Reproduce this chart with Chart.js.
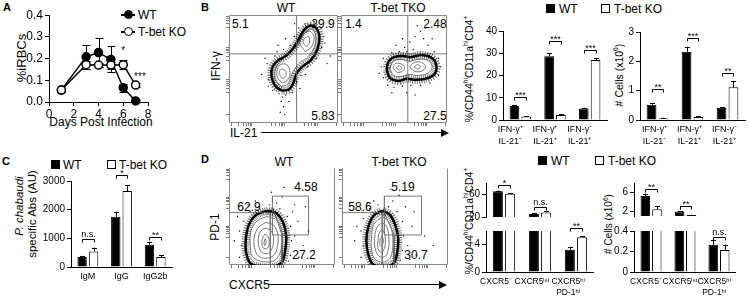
<!DOCTYPE html>
<html>
<head>
<meta charset="utf-8">
<script src="https://cdn.jsdelivr.net/npm/chart.js@4.4.1/dist/chart.umd.min.js"></script>
<style>
body { margin: 0; width: 749px; height: 302px; background: #fff; position: relative; overflow: hidden;
       font-family: "Liberation Sans", Arial, sans-serif; color: #000; }
canvas { position: absolute; }
.t { position: absolute; white-space: nowrap; line-height: 1; font-size: 12px; }
.c { transform: translate(-50%, -50%); }
.lt { transform: translateY(-50%); }
.r { transform: translate(-50%, -50%) rotate(-90deg); }
.b { font-weight: bold; font-size: 11px; }
.sq { position: absolute; width: 9px; height: 9px; box-sizing: border-box; border: 1px solid #000; background: #fff; }
.sq.f { background: #000; }
.ln { position: absolute; height: 1px; background: #000; }
.dot { position: absolute; width: 9px; height: 9px; border-radius: 50%; box-sizing: border-box; border: 1.5px solid #000; background: #fff; }
.dot.f { background: #000; }
.ah { position: absolute; width: 0; height: 0; border-top: 4px solid transparent; border-bottom: 4px solid transparent; border-left: 8px solid #000; }
sup { font-size: 65%; line-height: 0; }
</style>
</head>
<body>

<!-- panel letters -->
<div class="t b" style="left:3px;top:2px">A</div>
<div class="t b" style="left:201px;top:2px">B</div>
<div class="t b" style="left:2px;top:156px">C</div>
<div class="t b" style="left:201px;top:154px">D</div>

<!-- A -->
<div class="ln" style="left:121px;top:14px;width:14px;height:1.5px"></div>
<div class="dot f" style="left:124px;top:10px"></div>
<div class="t lt" style="left:138px;top:15px">WT</div>
<div class="ln" style="left:121px;top:31px;width:14px;height:1.5px"></div>
<div class="dot" style="left:124px;top:27px"></div>
<div class="t lt" style="left:138px;top:32px">T-bet KO</div>
<div class="t r" style="left:21px;top:58px;font-size:13px">%iRBCs</div>
<div class="t c" style="left:101px;top:122px;font-size:12px">Days Post Infection</div>

<!-- B flow -->
<div class="t c" style="left:286px;top:8px">WT</div>
<div class="t c" style="left:398px;top:8px">T-bet TKO</div>
<div class="t r" style="left:216px;top:66px">IFN-γ</div>
<div class="t lt" style="left:232px;top:24px">5.1</div>
<div class="t c" style="left:323px;top:24px">29.9</div>
<div class="t c" style="left:323px;top:116px">5.83</div>
<div class="t lt" style="left:345px;top:24px">1.4</div>
<div class="t c" style="left:435px;top:24px">2.48</div>
<div class="t c" style="left:435px;top:116px">27.5</div>
<div class="t lt" style="left:230px;top:133px">IL-21</div>
<div class="ln" style="left:261px;top:132px;width:181px"></div>
<div class="ah" style="left:441px;top:128.5px"></div>

<!-- B bars -->
<div class="sq f" style="left:546px;top:4px"></div>
<div class="t lt" style="left:559px;top:9px">WT</div>
<div class="sq" style="left:601px;top:4px"></div>
<div class="t lt" style="left:614px;top:9px">T-bet KO</div>
<div class="t r" style="left:469px;top:69px;font-size:10.5px">%/CD44<sup>hi</sup>CD11a<sup>hi</sup>CD4<sup>+</sup></div>
<div class="t r" style="left:619px;top:75px;font-size:10.5px"># Cells (x10<sup>6</sup>)</div>

<!-- C -->
<div class="sq f" style="left:51px;top:160px"></div>
<div class="t lt" style="left:63px;top:165px">WT</div>
<div class="sq" style="left:107px;top:160px"></div>
<div class="t lt" style="left:119px;top:165px">T-bet KO</div>
<div class="t r" style="left:20px;top:206px;font-size:11.5px"><i>P. chabaudi</i></div>
<div class="t r" style="left:33px;top:214px;font-size:11.5px">specific Abs (AU)</div>

<!-- D flow -->
<div class="t c" style="left:284px;top:162px">WT</div>
<div class="t c" style="left:399px;top:162px">T-bet TKO</div>
<div class="t r" style="left:215px;top:227px">PD-1</div>
<div class="t c" style="left:249px;top:207px">62.9</div>
<div class="t c" style="left:306px;top:187px">4.58</div>
<div class="t c" style="left:304px;top:255px">27.2</div>
<div class="t c" style="left:360px;top:207px">58.6</div>
<div class="t c" style="left:403px;top:187px">5.19</div>
<div class="t c" style="left:416px;top:255px">30.7</div>
<div class="t lt" style="left:229px;top:285px">CXCR5</div>
<div class="ln" style="left:268px;top:284px;width:172px"></div>
<div class="ah" style="left:439px;top:280.5px"></div>

<!-- D bars -->
<div class="sq f" style="left:538px;top:156px"></div>
<div class="t lt" style="left:551px;top:161px">WT</div>
<div class="sq" style="left:595px;top:156px"></div>
<div class="t lt" style="left:608px;top:161px">T-bet KO</div>
<div class="t r" style="left:469px;top:221px;font-size:10.5px">%/CD44<sup>hi</sup>CD11a<sup>hi</sup>CD4<sup>+</sup></div>
<div class="t r" style="left:609px;top:224px;font-size:10px"># Cells (x10<sup>6</sup>)</div>

<canvas id="chartA"></canvas>
<canvas id="flowBwt"></canvas>
<canvas id="flowBko"></canvas>
<canvas id="barB1"></canvas>
<canvas id="barB2"></canvas>
<canvas id="barC"></canvas>
<canvas id="flowDwt"></canvas>
<canvas id="flowDko"></canvas>
<canvas id="barD1top"></canvas>
<canvas id="barD1bot"></canvas>
<canvas id="barD2top"></canvas>
<canvas id="barD2bot"></canvas>

<script>
// ---------- data ----------

// A: parasitemia
const aDays = [1, 3, 4, 5, 6, 7];
const aWT = [0.055, 0.208, 0.228, 0.196, 0.066, 0.005];
const aWTErr = [0.01, 0.055, 0.065, 0.06, 0.018, 0.003];
const aKO = [0.055, 0.172, 0.17, 0.17, 0.172, 0.078];
const aKOErr = [0.01, 0.018, 0.01, 0.016, 0.02, 0.01];
const aStars = [{ x: 6, y: 0.232, t: '*' }, { x: 7.35, y: 0.113, t: '***' }];
const aTicksX = [0, 2, 4, 6, 8];
const aTicksY = [0, 0.1, 0.2, 0.3, 0.4];

// flow cytometry (arbitrary 0-100 display units)
const flowTicksX = [2, 9, 13, 16, 18, 19.5, 21, 39, 43, 46, 48, 49.5, 51, 69, 73, 76, 78, 79.5, 81, 99];
const flowTicksY = [8, 28, 32, 35, 37, 38.5, 40, 58, 62, 65, 67, 68.5, 70, 88, 92, 95, 97, 98.5];

const bWtQuad = [[[62, 0], [62, 100]], [[0, 64], [100, 64]]];
const bKoQuad = [[[63, 0], [63, 100]], [[0, 64], [100, 64]]];

const bWtRings = [
  [[48,30],[55,31],[59,37],[62,46],[67,52],[75,58],[81,68],[83,79],[80,88],[74,90],[68,85],[63,76],[58,68],[52,62],[45,58],[40,52],[39,44],[42,35],[48,30]],
  [[48,34],[54,36],[58,46],[64,55],[73,62],[79,72],[79,83],[75,87],[69,83],[63,72],[55,64],[46,56],[42,47],[43,39],[48,34]],
  [[49,37],[54,40],[56,47],[53,54],[47,54],[44,48],[45,41],[49,37]],
  [[49,41],[52,43],[52,48],[48,50],[46,46],[49,41]],
  [[70,66],[76,71],[78,80],[74,85],[68,82],[65,74],[70,66]],
  [[71,71],[74,75],[73,80],[69,78],[68,74],[71,71]]
];
const bWtDots = [[36,40],[38,48],[35,55],[42,62],[44,66],[50,68],[56,72],[60,80],[64,88],[70,92],[78,94],[85,88],[87,80],[85,70],
  [80,60],[72,52],[66,44],[62,38],[58,28],[52,26],[46,27],[40,30],[36,34],[48,20],[50,15],[47,10],[51,8],[49,24],[90,55],
  [93,62],[30,45],[33,60],[55,20],[65,32],[70,45],[88,74],[60,92],[45,72],[52,78]];

const bKoRings = [
  [[43,50],[46,42],[54,39],[62,41],[70,40],[80,41],[88,45],[90,53],[86,60],[76,63],[66,61],[58,62],[50,61],[45,57],[43,50]],
  [[46,50],[50,44],[57,43],[64,45],[72,44],[82,46],[86,52],[82,58],[72,59],[64,57],[56,59],[49,57],[46,50]],
  [[49,51],[53,47],[58,48],[60,52],[56,55],[51,55],[49,51]],
  [[52,51],[55,49],[57,51],[55,53],[52,51]],
  [[65,52],[69,48],[76,48],[80,52],[76,56],[69,56],[65,52]],
  [[69,52],[72,50],[75,52],[72,54],[69,52]]
];
const bKoDots = [[60,70],[65,75],[70,80],[75,85],[72,90],[78,78],[82,72],[68,68],[62,66],[55,66],[48,65],[40,60],[38,52],[40,42],
  [44,35],[50,33],[58,34],[66,35],[75,35],[84,37],[92,44],[94,52],[92,60],[88,66],[86,78],[80,88],[58,78],[52,72],[36,46],
  [62,28],[70,26],[48,28]];

const dWtGates = [
  [[0, 54], [39, 54], [39, 0]],
  [[41, 31], [75, 31], [75, 71], [41, 71], [41, 31]],
  [[41, 60], [50, 31], [50, 0]]
];
const dKoGates = [
  [[0, 54], [38, 54], [38, 0]],
  [[40, 31], [75, 31], [75, 71], [40, 71], [40, 31]],
  [[40, 54], [49, 31], [49, 0]]
];
const dWtRings = [
  [[37,56],[45,53],[51,44],[54,30],[53,15],[50,3],[42,-2],[30,-2],[20,2],[16,14],[16,28],[19,42],[26,52],[37,56]],
  [[36,50],[44,47],[49,38],[50,26],[48,12],[42,4],[30,4],[22,9],[20,22],[21,36],[27,46],[36,50]],
  [[35,44],[42,41],[46,32],[46,21],[43,11],[36,7],[28,9],[24,18],[24,30],[28,39],[35,44]],
  [[34,38],[40,35],[42,27],[41,18],[37,12],[31,13],[28,20],[28,30],[30,35],[34,38]],
  [[34,32],[37,29],[38,23],[36,17],[32,18],[31,24],[32,29],[34,32]],
  [[34,27],[35,24],[34,20],[33,22],[34,27]]
];
const dWtDots = [[12,20],[10,35],[14,45],[20,55],[28,60],[38,62],[48,58],[55,50],[58,40],[59,25],[58,10],[56,4],[10,8],[8,50],
  [25,66],[45,64],[62,30],[60,55],[65,45],[70,20],[5,25],[18,62],[50,70],[66,8],[62,62],[75,35],[52,80],[40,75],[72,60],[80,15]];

const dKoRings = [
  [[38,56],[45,52],[50,42],[53,28],[52,12],[49,2],[40,-2],[30,0],[25,10],[23,25],[25,40],[30,51],[38,56]],
  [[38,50],[43,46],[47,36],[48,22],[46,8],[40,3],[32,5],[28,15],[28,30],[30,42],[38,50]],
  [[38,44],[42,40],[44,30],[44,18],[41,9],[35,9],[31,18],[31,30],[33,39],[38,44]],
  [[38,37],[40,33],[41,25],[40,17],[37,13],[34,17],[34,26],[35,33],[38,37]],
  [[38,30],[39,26],[38,20],[36,20],[36,26],[38,30]]
];
const dKoDots = [[20,20],[18,35],[20,48],[26,58],[34,62],[44,60],[52,55],[57,45],[58,30],[57,15],[55,5],[18,8],[14,40],
  [30,66],[48,66],[62,20],[60,60],[66,40],[70,10],[12,25],[24,64],[54,72],[64,6],[68,55],[78,30],[46,78],[86,20]];

// B bars
const cytoLabels = [['IFN-γ⁺', 'IL-21⁻'], ['IFN-γ⁺', 'IL-21⁺'], ['IFN-γ⁻', 'IL-21⁺']];
const b1WT = [6.3, 28.6, 5.2];
const b1WTErr = [0.3, 1.3, 0.3];
const b1KO = [1.6, 2.3, 27];
const b1KOErr = [0.2, 0.2, 0.7];
const b1Sig = [10.5, 35.5, 31.5];
const b1Stars = ['***', '***', '***'];
const b1Ticks = [0, 10, 20, 30, 40];

const b2WT = [0.52, 2.33, 0.42];
const b2WTErr = [0.05, 0.17, 0.02];
const b2KO = [0.06, 0.1, 1.12];
const b2KOErr = [0.02, 0.02, 0.21];
const b2Sig = [1.05, 2.8, 1.6];
const b2Stars = ['**', '***', '**'];
const b2Ticks = [0, 1, 2, 3];

// C
const abLabels = ['IgM', 'IgG', 'IgG2b'];
const cWT = [350, 1750, 775];
const cWTErr = [40, 170, 80];
const cKO = [540, 2650, 345];
const cKOErr = [140, 200, 60];
const cSig = [970, 3200, 1040];
const cStars = ['n.s.', '*', '**'];
const cTicks = [0, 1000, 2000, 3000];

// D bars (broken axes)
const tfhLabels = ['CXCR5⁻', 'CXCR5ⁱⁿᵗ', ['CXCR5ʰⁱ', 'PD-1ʰⁱ']];
const d1WT = [65.5, 25.5, 3.25];
const d1WTErr = [1.2, 1, 0.45];
const d1KO = [61, 28, 5.1];
const d1KOErr = [1.5, 1.8, 0.15];
const d1Sig = [77, 38, 6.5];
const d1Stars = ['*', 'n.s.', '**'];
const d1TopTicks = [20, 40, 60, 80];
const d1BotTicks = [0, 2, 4, 6];

const d2WT = [5.25, 1.97, 0.265];
const d2WTErr = [0.5, 0.08, 0.045];
const d2KO = [2.45, 1.2, 0.215];
const d2KOErr = [0.65, 0.08, 0.05];
const d2Sig = [6.8, 3.2, 0.345];
const d2Stars = ['**', '**', 'n.s.'];
const d2TopTicks = [2, 4, 6, 8];
const d2BotTicks = [0, 0.1, 0.2, 0.3, 0.4];

// ---------- setup ----------

const FONT = '"Liberation Sans", Arial, sans-serif';
Chart.defaults.font.family = FONT;
Chart.defaults.font.size = 10;
Chart.defaults.color = '#000';
Chart.defaults.animation = false;
Chart.defaults.responsive = false;
Chart.defaults.devicePixelRatio = 1;
Chart.defaults.plugins.legend.display = false;
Chart.defaults.plugins.tooltip.enabled = false;

// error bars, drawn from the value arrays through the y scale
const errPlugin = {
  id: 'errs',
  draw(chart, o) {
    const { ctx, scales: { y } } = chart;
    ctx.save();
    ctx.strokeStyle = '#000';
    ctx.lineWidth = 1;
    o.sets.forEach(([vals, errs], d) => {
      const meta = chart.getDatasetMeta(d);
      vals.forEach((v, i) => {
        const el = meta.data[i];
        if (!el || v < y.min || v > y.max) return;
        const hi = v + errs[i];
        const lo = o.both ? v - errs[i] : v;
        const x = Math.round(el.x) + 0.5;
        ctx.beginPath();
        ctx.moveTo(x, y.getPixelForValue(lo));
        ctx.lineTo(x, y.getPixelForValue(Math.min(hi, y.max)));
        if (hi <= y.max) {
          const py = Math.round(y.getPixelForValue(hi)) + 0.5;
          ctx.moveTo(x - o.cap, py);
          ctx.lineTo(x + o.cap, py);
          if (o.both) {
            const pl = Math.round(y.getPixelForValue(lo)) + 0.5;
            ctx.moveTo(x - o.cap, pl);
            ctx.lineTo(x + o.cap, pl);
          }
        }
        ctx.stroke();
      });
    });
    ctx.restore();
  },
  beforeDatasetsDraw(chart, _, o) { if (o.sets && o.before) this.draw(chart, o); },
  afterDatasetsDraw(chart, _, o) { if (o.sets && !o.before) this.draw(chart, o); }
};

// significance brackets between the two bars of a group
const sigPlugin = {
  id: 'sig',
  afterDraw(chart, _, o) {
    if (!o.items) return;
    const { ctx, scales: { y } } = chart;
    const m0 = chart.getDatasetMeta(0), m1 = chart.getDatasetMeta(1);
    ctx.save();
    ctx.strokeStyle = '#000';
    ctx.fillStyle = '#000';
    ctx.lineWidth = 1;
    ctx.font = '9px ' + FONT;
    ctx.textAlign = 'center';
    ctx.textBaseline = 'bottom';
    o.items.forEach(({ i, v, t }) => {
      const x0 = Math.round(m0.data[i].x) + 0.5;
      const x1 = Math.round(m1.data[i].x) + 0.5;
      const py = Math.round(y.getPixelForValue(v)) + 0.5;
      ctx.beginPath();
      ctx.moveTo(x0, py + 3); ctx.lineTo(x0, py); ctx.lineTo(x1, py); ctx.lineTo(x1, py + 3);
      ctx.stroke();
      ctx.fillText(t, (x0 + x1) / 2, t.startsWith('*') ? py + 3 : py);
    });
    ctx.restore();
  }
};

// free text at data coordinates
const notePlugin = {
  id: 'notes',
  afterDraw(chart, _, o) {
    if (!o.items) return;
    const { ctx, scales: { x, y } } = chart;
    ctx.save();
    ctx.fillStyle = '#000';
    ctx.font = '10px ' + FONT;
    ctx.textAlign = 'center';
    ctx.textBaseline = 'middle';
    o.items.forEach(n => ctx.fillText(n.t, x.getPixelForValue(n.x), y.getPixelForValue(n.y)));
    ctx.restore();
  }
};

// frame around flow plots
const framePlugin = {
  id: 'frame',
  beforeDatasetsDraw(chart, _, o) {
    if (!o.sides) return;
    const { ctx, chartArea: a } = chart;
    const l = Math.round(a.left) + 0.5, r = Math.round(a.right) - 0.5;
    const t = Math.round(a.top) + 0.5, b = Math.round(a.bottom) - 0.5;
    ctx.save();
    ctx.strokeStyle = '#8a8a8a';
    ctx.lineWidth = 1;
    ctx.beginPath();
    if (o.sides.includes('t')) { ctx.moveTo(l, t); ctx.lineTo(r, t); }
    if (o.sides.includes('l')) { ctx.moveTo(l, t); ctx.lineTo(l, b); }
    if (o.sides.includes('b')) { ctx.moveTo(l, b); ctx.lineTo(r, b); }
    if (o.sides.includes('r')) { ctx.moveTo(r, t); ctx.lineTo(r, b); }
    ctx.stroke();
    ctx.restore();
  }
};

Chart.register(errPlugin, sigPlugin, notePlugin, framePlugin);

// put a canvas so that its chart area lands on the given rectangle
function place(id, area, yw, xh, padT, padR) {
  const cv = document.getElementById(id);
  const w = Math.round(area.r - area.l + yw + padR);
  const h = Math.round(area.b - area.t + padT + xh);
  cv.width = w;
  cv.height = h;
  cv.style.left = (area.l - yw) + 'px';
  cv.style.top = (area.t - padT) + 'px';
  cv.style.width = w + 'px';
  cv.style.height = h + 'px';
  return cv;
}

function layout(padT, padR) {
  return { autoPadding: false, padding: { top: padT, right: padR, left: 0, bottom: 0 } };
}

function valueAxis(min, max, ticks, w, fmt, size) {
  return {
    min, max,
    afterBuildTicks: s => { s.ticks = ticks.map(v => ({ value: v })); },
    afterFit: s => { s.width = w; },
    grid: { drawOnChartArea: false, tickLength: 4, color: '#000', tickColor: '#000' },
    border: { color: '#000', width: 1 },
    ticks: { padding: 2, font: { size: size || 10 }, callback: fmt || (v => v) }
  };
}

function groupAxis(shift, h, show, size) {
  return {
    type: 'category', display: show,
    afterFit: s => { s.height = h; },
    grid: { display: false, drawTicks: false },
    border: { color: '#000', width: 1 },
    ticks: { padding: 4, autoSkip: false, maxRotation: 0, minRotation: 0, labelOffset: shift,
             font: { size: size || 9, lineHeight: 1.3 } }
  };
}

const pts = arr => arr.map(([x, y]) => ({ x, y }));

// ---------- A ----------
(function () {
  const area = { l: 49, r: 148, t: 14, b: 102 };
  const cv = place('chartA', area, 49, 26, 8, 14);
  const xy = vals => aDays.map((d, i) => ({ x: d, y: vals[i] }));
  new Chart(cv, {
    type: 'scatter',
    data: {
      datasets: [
        { data: xy(aKO), showLine: true, borderColor: '#000', borderWidth: 1.5, pointRadius: 4,
          pointBackgroundColor: '#fff', pointBorderColor: '#000', pointBorderWidth: 1.5, clip: false },
        { data: xy(aWT), showLine: true, borderColor: '#000', borderWidth: 1.5, pointRadius: 4,
          pointBackgroundColor: '#000', pointBorderColor: '#000', clip: false }
      ]
    },
    options: {
      layout: layout(8, 14),
      scales: {
        x: {
          type: 'linear', min: 0, max: 8,
          afterBuildTicks: s => { s.ticks = aTicksX.map(v => ({ value: v })); },
          afterFit: s => { s.height = 26; },
          grid: { drawOnChartArea: false, tickLength: 4, color: '#000', tickColor: '#000' },
          border: { color: '#000', width: 1 },
          ticks: { padding: 1, font: { size: 12 } }
        },
        y: valueAxis(0, 0.4, aTicksY, 49, v => v.toFixed(1), 12)
      },
      plugins: {
        errs: { sets: [[aKO, aKOErr], [aWT, aWTErr]], both: true, cap: 4, before: true },
        notes: { items: aStars }
      }
    }
  });
})();

// ---------- flow plots ----------
function flowAxis(ticks, horizontal) {
  return {
    type: 'linear', min: 0, max: 100,
    afterBuildTicks: s => { s.ticks = ticks.map(v => ({ value: v })); },
    afterFit: s => { if (horizontal) s.height = 3; else s.width = 3; },
    grid: { drawOnChartArea: false, tickLength: 3, color: '#777', tickColor: '#777' },
    border: { display: false },
    ticks: { display: false }
  };
}

function flow(id, area, rings, dots, gates, sides) {
  const cv = place(id, area, 3, 3, 1, 1);
  const sets = [];
  sets.push({ data: pts(rings[0]), showLine: true, tension: 0.35, borderColor: 'rgba(0,0,0,0.55)',
              borderWidth: 8, borderDash: [1, 1.2], pointRadius: 0 });
  sets.push({ data: pts(dots), pointRadius: 0.7, backgroundColor: '#000', borderWidth: 0 });
  gates.forEach(g => sets.push({ data: pts(g), showLine: true, tension: 0, borderColor: '#7a7a7a',
                                 borderWidth: 1, pointRadius: 0 }));
  rings.forEach((r, k) => sets.push({ data: pts(r), showLine: true, tension: 0.35,
                                      borderColor: k === 0 ? '#000' : '#555',
                                      borderWidth: k === 0 ? 2.5 : 0.8, pointRadius: 0 }));
  new Chart(cv, {
    type: 'scatter',
    data: { datasets: sets },
    options: {
      layout: layout(1, 1),
      scales: { x: flowAxis(flowTicksX, true), y: flowAxis(flowTicksY, false) },
      plugins: { frame: { sides } }
    }
  });
}

flow('flowBwt', { l: 229, r: 338, t: 15, b: 123 }, bWtRings, bWtDots, bWtQuad, 'tlbr');
flow('flowBko', { l: 341, r: 447, t: 15, b: 123 }, bKoRings, bKoDots, bKoQuad, 'tlbr');
flow('flowDwt', { l: 229, r: 335, t: 168, b: 265 }, dWtRings, dWtDots, dWtGates, 'lbr');
flow('flowDko', { l: 342, r: 448, t: 168, b: 265 }, dKoRings, dKoDots, dKoGates, 'lbr');

// ---------- bar charts ----------
function bars(id, cfg) {
  const cv = place(id, cfg.area, cfg.yw, cfg.xh, cfg.padT, 3);
  const keep = v => v >= cfg.min;
  const vals = arr => arr.map(v => (keep(v) ? v : null));
  const items = cfg.sig.map((v, i) => ({ i, v, t: cfg.stars[i] }))
                       .filter(s => s.v >= cfg.sigMin && s.v <= cfg.sigMax);
  new Chart(cv, {
    type: 'bar',
    data: {
      labels: cfg.labels,
      datasets: [
        { data: vals(cfg.wt), backgroundColor: '#000', borderColor: '#000', borderWidth: 1 },
        { data: vals(cfg.ko), backgroundColor: '#fff', borderColor: '#000', borderWidth: 1 }
      ]
    },
    options: {
      layout: layout(cfg.padT, 3),
      categoryPercentage: 0.68,
      barPercentage: 0.82,
      scales: {
        x: groupAxis(cfg.shift, cfg.xh, cfg.xh > 0, cfg.labelSize),
        y: valueAxis(cfg.min, cfg.max, cfg.ticks, cfg.yw)
      },
      plugins: {
        errs: { sets: [[cfg.wt, cfg.wtErr], [cfg.ko, cfg.koErr]], cap: 2.5 },
        sig: { items }
      }
    }
  });
}

bars('barB1', { area: { l: 503, r: 607, t: 31, b: 120 }, yw: 30, xh: 30, padT: 12,
  labels: cytoLabels, shift: -10, min: 0, max: 40, ticks: b1Ticks,
  wt: b1WT, wtErr: b1WTErr, ko: b1KO, koErr: b1KOErr, sig: b1Sig, stars: b1Stars, sigMin: 0, sigMax: 99 });

bars('barB2', { area: { l: 640, r: 745, t: 32, b: 120 }, yw: 16, xh: 30, padT: 12,
  labels: cytoLabels, shift: -3, min: 0, max: 3, ticks: b2Ticks,
  wt: b2WT, wtErr: b2WTErr, ko: b2KO, koErr: b2KOErr, sig: b2Sig, stars: b2Stars, sigMin: 0, sigMax: 99 });

bars('barC', { area: { l: 71, r: 172, t: 181, b: 267 }, yw: 32, xh: 20, padT: 18,
  labels: abLabels, shift: 0, min: 0, max: 3000, ticks: cTicks,
  wt: cWT, wtErr: cWTErr, ko: cKO, koErr: cKOErr, sig: cSig, stars: cStars, sigMin: 0, sigMax: 9999 });

bars('barD1top', { area: { l: 486, r: 594, t: 183, b: 225 }, yw: 22, xh: 0, padT: 14,
  labels: tfhLabels, shift: -9, min: 20, max: 80, ticks: d1TopTicks,
  wt: d1WT, wtErr: d1WTErr, ko: d1KO, koErr: d1KOErr, sig: d1Sig, stars: d1Stars, sigMin: 20, sigMax: 999 });

bars('barD1bot', { area: { l: 486, r: 594, t: 231, b: 272 }, yw: 22, xh: 30, padT: 14, labelSize: 8.5,
  labels: tfhLabels, shift: -8, min: 0, max: 6, ticks: d1BotTicks,
  wt: d1WT, wtErr: d1WTErr, ko: d1KO, koErr: d1KOErr, sig: d1Sig, stars: d1Stars, sigMin: 0, sigMax: 20 });

bars('barD2top', { area: { l: 634, r: 737, t: 183, b: 224 }, yw: 20, xh: 0, padT: 14,
  labels: tfhLabels, shift: -6, min: 1, max: 8, ticks: d2TopTicks,
  wt: d2WT, wtErr: d2WTErr, ko: d2KO, koErr: d2KOErr, sig: d2Sig, stars: d2Stars, sigMin: 1, sigMax: 99 });

bars('barD2bot', { area: { l: 634, r: 737, t: 231, b: 272 }, yw: 24, xh: 30, padT: 14, labelSize: 8.5,
  labels: tfhLabels, shift: -5, min: 0, max: 0.4, ticks: d2BotTicks,
  wt: d2WT, wtErr: d2WTErr, ko: d2KO, koErr: d2KOErr, sig: d2Sig, stars: d2Stars, sigMin: 0, sigMax: 1 });
</script>
</body>
</html>
